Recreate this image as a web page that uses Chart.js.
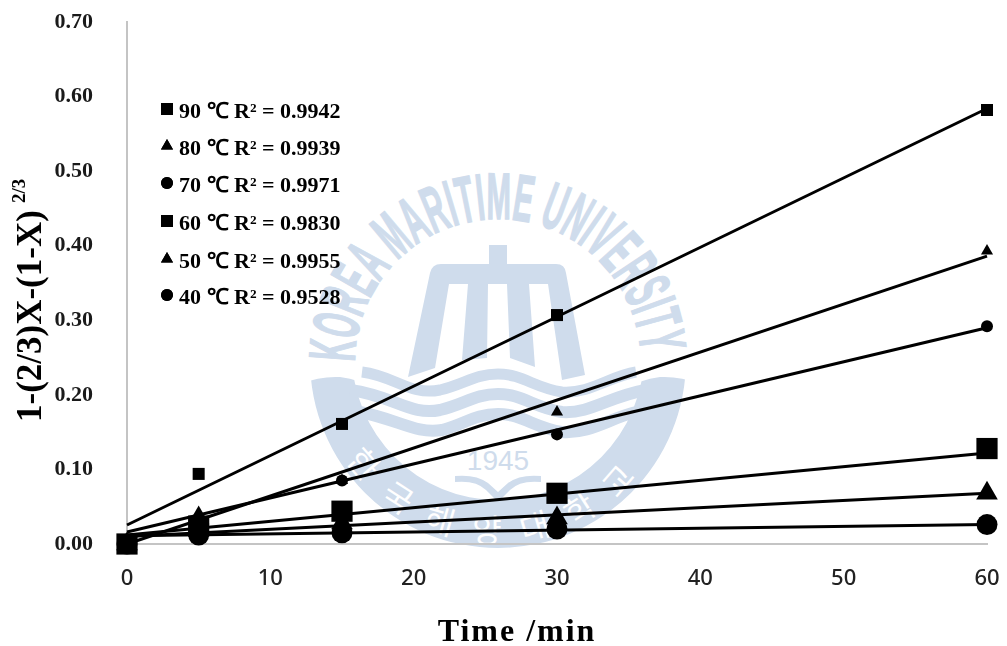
<!DOCTYPE html>
<html>
<head>
    <title>Time vs 1-(2/3)X-(1-X)^(2/3)</title>
    <script src="https://cdn.jsdelivr.net/npm/chart.js"></script>
    <style>
        html, body { margin: 0; padding: 0; background: #fff; }
        .wrap { position: relative; width: 1007px; height: 646px; overflow: hidden; }
        .wrap svg, .wrap canvas { position: absolute; left: 0; top: 0; }
    </style>
</head>
<body>
<div class="wrap">
    <!-- university seal watermark behind the plot -->
    <svg width="1007" height="646" viewBox="0 0 1007 646">
        <defs>
            <path id="topArc" d="M 355 362 A 143 143 0 0 1 641 362"/>
            <path id="botArc" d="M 322 400 A 180 180 0 0 0 674 400"/>
            <clipPath id="lowerClip"><path d="M 300 384 Q 320 376 340 377 Q 360 379 380 392 L 620 392 Q 640 379 660 377 Q 680 376 700 384 L 700 560 L 300 560 Z"/></clipPath>
        </defs>
        <g fill="#cfdcec" stroke="none">
            <g clip-path="url(#lowerClip)">
                <path fill-rule="evenodd" d="M 310 360 A 188 188 0 0 0 686 360 L 686 300 L 310 300 Z M 352 354 A 146 146 0 0 0 644 354 L 644 300 L 352 300 Z"/>
            </g>
            <path d="M 489 245 L 507 245 L 507 264 L 556 264 Q 565 264 566 273 L 585 375 L 562 380 L 548 284 L 529 284 L 535 367 L 510 358 L 507 284 L 488 284 L 487 358 L 462 360 L 468 284 L 449 284 L 435 368 L 408 377 L 430 273 Q 432 264 441 264 L 489 264 Z"/>
            <path d="M 455 476 Q 476 474 488 483 L 498 492 L 508 483 Q 520 474 541 476 L 541 482 Q 520 480 510 490 L 498 502 L 486 490 Q 476 480 455 482 Z"/>
        </g>
        <g fill="none" stroke="#cfdcec" stroke-linecap="butt">
            <path stroke-width="11" d="M 362 372 C 395 376 410 396 440 390 C 465 384 475 374 498 374 C 522 374 535 388 562 392 C 590 394 610 376 636 372"/>
            <path stroke-width="12" d="M 350 390 C 395 396 410 416 440 410 C 465 404 475 394 498 394 C 522 394 535 408 562 412 C 590 414 610 396 646 390"/>
            <path stroke-width="12" d="M 360 412 C 400 420 415 434 442 430 C 465 424 475 414 498 414 C 522 414 535 428 562 432 C 590 434 610 418 636 412"/>
        </g>
        <text font-family="'Liberation Sans',sans-serif" font-weight="700" font-size="66" fill="#cfdcec" stroke="#cfdcec" stroke-width="1.5">
            <textPath href="#topArc" textLength="440" lengthAdjust="spacingAndGlyphs">KOREA MARITIME UNIVERSITY</textPath>
        </text>
        <text font-family="'Noto Sans CJK KR',sans-serif" font-size="32" fill="#fff" text-anchor="middle" letter-spacing="22">
            <textPath href="#botArc" startOffset="50%">한국해양대학교</textPath>
        </text>
        <text x="498" y="470" font-family="'Liberation Sans',sans-serif" font-size="28" fill="#cfdcec" text-anchor="middle">1945</text>
    </svg>
    <canvas id="kineticsChart" width="1007" height="646"></canvas>
</div>

<script>
    const times = [0, 5, 15, 30, 60];
    const y90 = [0, 0.094, 0.161, 0.307, 0.582];
    const y80 = [0, 0.030, 0.085, 0.177, 0.393];
    const y70 = [0, 0.028, 0.085, 0.147, 0.292];
    const y60 = [0, 0.024, 0.044, 0.068, 0.128];
    const y50 = [0, 0.035, 0.028, 0.035, 0.068];
    const y40 = [0, 0.012, 0.015, 0.020, 0.026];

    // Linear fit lines, end values at t = 0 and t = 60
    const fitTimes = [0, 60];
    const fit90 = [0.0255, 0.584];
    const fit80 = [0.000, 0.386];
    const fit70 = [0.016, 0.290];
    const fit60 = [0.012, 0.122];
    const fit50 = [0.010, 0.068];
    const fit40 = [0.011, 0.026];

    const yTicks = [0, 0.1, 0.2, 0.3, 0.4, 0.5, 0.6, 0.7];
    const xTicks = [0, 10, 20, 30, 40, 50, 60];
    const legendLabels = [
        '90 ℃ R² = 0.9942',
        '80 ℃ R² = 0.9939',
        '70 ℃ R² = 0.9971',
        '60 ℃ R² = 0.9830',
        '50 ℃ R² = 0.9955',
        '40 ℃ R² = 0.9528'
    ];

    const pts = (xs, ys) => xs.map((x, i) => ({ x: x, y: ys[i] }));

    function markers(ys, style, radius) {
        return {
            data: pts(times, ys),
            showLine: false,
            pointStyle: style,
            pointRadius: radius,
            pointBackgroundColor: '#000',
            pointBorderWidth: 0,
            clip: false
        };
    }

    function fitLine(ys) {
        return {
            data: pts(fitTimes, ys),
            showLine: true,
            borderColor: '#000',
            borderWidth: 3,
            pointRadius: 0,
            clip: false
        };
    }

    const serif = "'Liberation Serif', serif";

    // Legend and axis titles sit at fixed places, so draw them by hand
    const annotations = {
        id: 'annotations',
        afterDraw(chart) {
            const ctx = chart.ctx;
            const rows = [112, 149, 186, 224, 262, 298];
            const styles = ['rect', 'triangle', 'circle', 'rect', 'triangle', 'circle'];
            const sizes = [8.5, 7, 6, 8.5, 7, 6];
            ctx.save();
            ctx.fillStyle = '#000';
            ctx.textBaseline = 'middle';
            ctx.font = 'bold 22px ' + serif;
            legendLabels.forEach((label, i) => {
                ctx.fillText(label, 179, rows[i]);
                Chart.helpers.drawPoint(ctx, { pointStyle: styles[i], radius: sizes[i], borderWidth: 0 }, 167, rows[i] - 3);
                ctx.fill();
            });

            ctx.textBaseline = 'alphabetic';
            ctx.font = 'bold 32px ' + serif;
            ctx.letterSpacing = '2px';
            ctx.textAlign = 'center';
            ctx.fillText('Time /min', 517, 641);
            ctx.letterSpacing = '0px';

            ctx.translate(41, 0);
            ctx.rotate(-Math.PI / 2);
            ctx.textAlign = 'left';
            ctx.font = 'bold 35px ' + serif;
            ctx.fillText('1-(2/3)X-(1-X)', -422, 0);
            ctx.font = 'bold 19px ' + serif;
            ctx.fillText('2/3', -203, -16);
            ctx.restore();
        }
    };

    new Chart(document.getElementById('kineticsChart'), {
        type: 'scatter',
        data: {
            datasets: [
                markers(y90, 'rect', 8.5),
                markers(y80, 'triangle', 7),
                markers(y70, 'circle', 6),
                markers(y60, 'rect', 15),
                markers(y50, 'triangle', 12.5),
                markers(y40, 'circle', 10.5),
                fitLine(fit90),
                fitLine(fit80),
                fitLine(fit70),
                fitLine(fit60),
                fitLine(fit50),
                fitLine(fit40)
            ]
        },
        options: {
            responsive: false,
            animation: false,
            layout: { padding: { top: 22, right: 20, left: 0, bottom: 0 } },
            plugins: { legend: { display: false }, tooltip: { enabled: false } },
            scales: {
                x: {
                    type: 'linear',
                    min: 0,
                    max: 60,
                    afterFit(scale) {
                        scale.height = 102;
                        scale.paddingLeft = 0;
                        scale.paddingRight = 0;
                    },
                    afterBuildTicks(scale) { scale.ticks = xTicks.map(v => ({ value: v })); },
                    grid: { display: false },
                    border: { color: '#c4c4c4', width: 2 },
                    ticks: {
                        color: '#222',
                        padding: 14,
                        maxRotation: 0,
                        font: { family: "'Noto Sans', sans-serif", size: 22, weight: 500 }
                    }
                },
                y: {
                    min: 0,
                    max: 0.7,
                    afterFit(scale) {
                        scale.width = 127;
                        scale.paddingTop = 0;
                        scale.paddingBottom = 0;
                    },
                    afterBuildTicks(scale) { scale.ticks = yTicks.map(v => ({ value: v })); },
                    grid: { display: false },
                    border: { color: '#c4c4c4', width: 2 },
                    ticks: {
                        color: '#1a1a1a',
                        padding: 26,
                        font: { family: serif, size: 22, weight: 'bold' },
                        callback: function(value) {
                            return value.toFixed(2);
                        }
                    }
                }
            }
        },
        plugins: [annotations]
    });
</script>
</body>
</html>
